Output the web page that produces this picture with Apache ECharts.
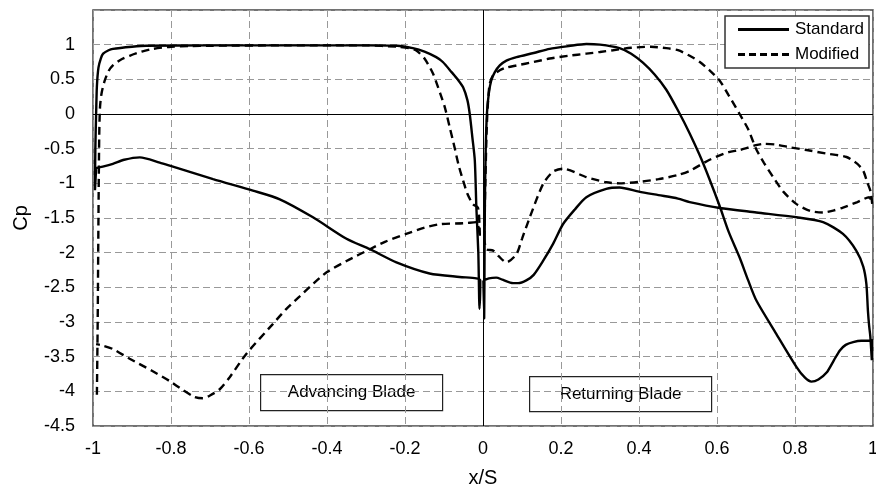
<!DOCTYPE html>
<html>
<head>
<meta charset="utf-8">
<script src="https://cdn.jsdelivr.net/npm/echarts@6/dist/echarts.min.js"></script>
<style>
html,body{margin:0;padding:0;background:#fff;}
#main{width:876px;height:489px;}
</style>
</head>
<body>
<div id="main"></div>
<script>
// Cp 曲线数据 [x/S, Cp]，每条为一个闭合回路（上表面 -> 下表面）
var stdAdvancing = [
	[-0.992,-0.78],[-0.995,-1.1],[-0.994,-0.5],[-0.992,0.0],[-0.99,0.4],[-0.986,0.67],[-0.98,0.8],
	[-0.974,0.87],[-0.96,0.92],[-0.949,0.94],[-0.9,0.97],[-0.863,0.985],[-0.7,0.99],[-0.5,0.99],
	[-0.3,0.99],[-0.22,0.985],[-0.18,0.95],[-0.15,0.9],[-0.12,0.82],[-0.103,0.75],[-0.08,0.6],
	[-0.065,0.5],[-0.051,0.385],[-0.04,0.2],[-0.034,0.0],[-0.027,-0.35],[-0.021,-0.67],
	[-0.017,-1.35],[-0.012,-2.0],[-0.009,-2.81],[-0.007,-2.4],[-0.017,-2.37],[-0.06,-2.35],
	[-0.137,-2.3],[-0.222,-2.14],[-0.29,-1.95],[-0.35,-1.8],[-0.436,-1.49],[-0.521,-1.23],
	[-0.59,-1.105],[-0.692,-0.94],[-0.795,-0.76],[-0.829,-0.7],[-0.88,-0.625],[-0.92,-0.66],
	[-0.949,-0.72],[-0.975,-0.76],[-0.992,-0.78]
];
var stdReturning = [
	[0.001,-2.4],[0.003,-2.95],[0.004,-2.0],[0.005,-1.2],[0.007,-0.5],[0.01,0.0],[0.015,0.3],
	[0.021,0.48],[0.03,0.6],[0.043,0.7],[0.06,0.77],[0.086,0.82],[0.13,0.88],[0.171,0.94],
	[0.22,0.98],[0.265,1.01],[0.3,1.0],[0.35,0.95],[0.38,0.87],[0.41,0.74],[0.44,0.57],
	[0.47,0.35],[0.5,0.05],[0.53,-0.28],[0.556,-0.6],[0.58,-0.93],[0.607,-1.33],[0.63,-1.7],
	[0.658,-2.07],[0.68,-2.4],[0.701,-2.69],[0.752,-3.17],[0.804,-3.65],[0.825,-3.8],[0.842,-3.86],
	[0.86,-3.83],[0.881,-3.73],[0.9,-3.55],[0.915,-3.41],[0.93,-3.33],[0.949,-3.29],[0.97,-3.27],
	[0.992,-3.27],[0.997,-3.25],[0.997,-3.55],[0.993,-3.2],[0.99,-3.05],[0.987,-2.84],[0.983,-2.45],
	[0.975,-2.2],[0.957,-1.97],[0.923,-1.73],[0.872,-1.56],[0.804,-1.49],[0.701,-1.42],
	[0.607,-1.355],[0.53,-1.27],[0.5,-1.22],[0.45,-1.17],[0.4,-1.12],[0.35,-1.06],[0.316,-1.08],
	[0.265,-1.2],[0.235,-1.38],[0.205,-1.59],[0.18,-1.87],[0.154,-2.12],[0.13,-2.32],[0.111,-2.4],
	[0.09,-2.44],[0.077,-2.44],[0.05,-2.39],[0.034,-2.36],[0.015,-2.37],[0.001,-2.4]
];
var modAdvancing = [
	[-0.99,-4.05],[-0.988,-3.0],[-0.986,-1.5],[-0.984,-0.3],[-0.982,0.1],[-0.978,0.3],[-0.97,0.48],
	[-0.96,0.62],[-0.949,0.7],[-0.93,0.78],[-0.906,0.84],[-0.875,0.9],[-0.846,0.94],[-0.8,0.97],
	[-0.75,0.98],[-0.7,0.985],[-0.5,0.99],[-0.3,0.99],[-0.22,0.97],[-0.19,0.95],[-0.171,0.915],
	[-0.15,0.8],[-0.128,0.58],[-0.11,0.3],[-0.098,0.1],[-0.085,-0.2],[-0.073,-0.48],[-0.062,-0.75],
	[-0.051,-0.96],[-0.04,-1.15],[-0.026,-1.3],[-0.013,-1.35],[-0.009,-1.6],[-0.008,-1.78],
	[-0.017,-1.56],[-0.05,-1.575],[-0.111,-1.59],[-0.15,-1.64],[-0.197,-1.73],[-0.25,-1.84],
	[-0.29,-1.95],[-0.35,-2.12],[-0.4,-2.28],[-0.436,-2.45],[-0.47,-2.63],[-0.504,-2.81],
	[-0.539,-3.03],[-0.607,-3.46],[-0.65,-3.8],[-0.675,-3.97],[-0.7,-4.06],[-0.718,-4.1],
	[-0.74,-4.08],[-0.77,-3.98],[-0.804,-3.85],[-0.85,-3.7],[-0.906,-3.53],[-0.949,-3.39],
	[-0.975,-3.34],[-0.992,-3.32]
];
var modReturning = [
	[0.003,-1.8],[0.006,-1.0],[0.009,-0.3],[0.012,0.1],[0.017,0.43],[0.025,0.55],[0.043,0.63],
	[0.06,0.67],[0.086,0.7],[0.13,0.75],[0.171,0.8],[0.22,0.84],[0.265,0.87],[0.3,0.895],[0.333,0.92],
	[0.38,0.955],[0.43,0.97],[0.47,0.95],[0.5,0.92],[0.53,0.84],[0.556,0.75],[0.581,0.63],
	[0.607,0.48],[0.63,0.27],[0.658,0.0],[0.68,-0.22],[0.7,-0.5],[0.72,-0.7],[0.744,-0.91],
	[0.77,-1.12],[0.804,-1.3],[0.84,-1.4],[0.872,-1.42],[0.9,-1.39],[0.923,-1.35],[0.96,-1.27],
	[0.99,-1.2],[0.998,-1.3],[0.994,-1.12],[0.985,-0.98],[0.975,-0.82],[0.96,-0.72],[0.932,-0.62],
	[0.88,-0.57],[0.83,-0.52],[0.786,-0.48],[0.75,-0.44],[0.72,-0.43],[0.7,-0.45],[0.658,-0.52],
	[0.63,-0.55],[0.581,-0.66],[0.53,-0.82],[0.5,-0.88],[0.45,-0.94],[0.4,-0.98],[0.35,-1.0],
	[0.316,-0.985],[0.265,-0.91],[0.205,-0.79],[0.18,-0.83],[0.154,-1.01],[0.12,-1.49],[0.1,-1.8],
	[0.086,-2.02],[0.06,-2.14],[0.04,-2.05],[0.026,-1.97],[0.009,-1.95],[0.003,-1.8]
];
var legendNames = ['Standard','Modified'];
var bladeLabels = ['Advancing Blade','Returning Blade'];

var font = 'Liberation Sans, Arial, sans-serif';
var myChart = echarts.init(document.getElementById('main'));

function lineSeries(name, data, dashed) {
	return {
		name: name,
		type: 'line',
		data: data,
		smooth: 0.25,
		symbol: 'none',
		showSymbol: false,
		silent: true,
		lineStyle: {color:'#000', width:2.4, type: dashed ? [8,5] : 'solid'},
		itemStyle: {color:'#000'}
	};
}

var seriesList = [
	lineSeries(legendNames[0], stdAdvancing, false),
	lineSeries(legendNames[0], stdReturning, false),
	lineSeries(legendNames[1], modAdvancing, true),
	lineSeries(legendNames[1], modReturning, true)
];
// x=0 与 y=0 实线
seriesList[0].markLine = {
	silent: true,
	symbol: 'none',
	label: {show:false},
	lineStyle: {color:'#000', type:'solid', width:1},
	data: [{xAxis:0},{yAxis:0}]
};

option = {
	animation: false,
	grid: {
		left: 93, right: 3, top: 10, bottom: 63,
		outerBoundsMode: 'none',
		show: true,
		borderColor: '#444',
		borderWidth: 1.5
	},
	legend: {
		data: [
			{name: legendNames[0], icon: 'path://M0,0h51v3h-51z'},
			{name: legendNames[1], icon: 'path://M0,0h7v3h-7zM11,0h7v3h-7zM22,0h7v3h-7zM33,0h7v3h-7zM44,0h7v3h-7z'}
		],
		orient: 'vertical',
		right: 7,
		top: 16,
		padding: [5,5,5,13],
		itemGap: 8,
		itemWidth: 51,
		itemHeight: 3,
		borderColor: '#333',
		borderWidth: 1.5,
		backgroundColor: '#fff',
		textStyle: {color:'#000', fontSize:17, fontFamily:font, padding:[0,0,0,1]}
	},
	xAxis: {
		type: 'value',
		min: -1, max: 1, interval: 0.2,
		name: 'x/S',
		nameLocation: 'middle',
		nameGap: 42,
		nameTextStyle: {color:'#000', fontSize:20, fontFamily:font},
		axisLine: {show:false, onZero:false},
		axisTick: {show:false},
		axisLabel: {color:'#000', fontSize:18, fontFamily:font, margin:14},
		splitLine: {show:true, lineStyle:{color:'#999', type:[7,4], width:1}}
	},
	yAxis: {
		type: 'value',
		min: -4.5, max: 1.5, interval: 0.5,
		name: 'Cp',
		nameLocation: 'middle',
		nameGap: 62,
		nameTextStyle: {color:'#000', fontSize:20, fontFamily:font},
		axisLine: {show:false, onZero:false},
		axisTick: {show:false},
		axisLabel: {
			color:'#000', fontSize:18, fontFamily:font, margin:18,
			formatter: function (v) { return v === 1.5 ? '' : String(v); }
		},
		splitLine: {show:true, lineStyle:{color:'#999', type:[7,4], width:1}}
	},
	graphic: [
		{
			type: 'group', left: 260, top: 374,
			children: [
				{type:'rect', shape:{x:0, y:0, width:182, height:36}, style:{fill:'#fff', stroke:'#222', lineWidth:1.2}},
				{type:'text', x:91, y:18, style:{text:bladeLabels[0], fill:'#000', font:'17px ' + font, align:'center', verticalAlign:'middle'}}
			]
		},
		{
			type: 'group', left: 529, top: 376,
			children: [
				{type:'rect', shape:{x:0, y:0, width:182, height:35}, style:{fill:'#fff', stroke:'#222', lineWidth:1.2}},
				{type:'text', x:91, y:17.5, style:{text:bladeLabels[1], fill:'#000', font:'17px ' + font, align:'center', verticalAlign:'middle'}}
			]
		}
	],
	series: seriesList
};

myChart.setOption(option);
</script>
</body>
</html>
